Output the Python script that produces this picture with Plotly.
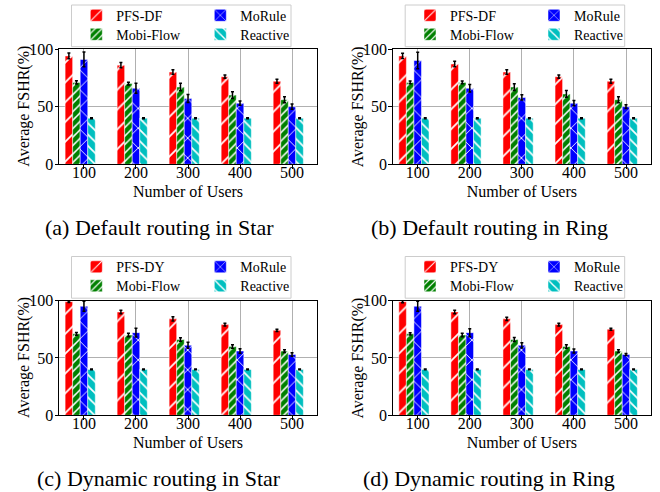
import plotly.graph_objects as go

W, H = 660, 492

users = [100, 200, 300, 400, 500]
user_labels = ["100", "200", "300", "400", "500"]

# (a) Default routing in Star
a_pfs = [94, 86, 80, 76, 72]
a_mobi = [71, 70, 67, 60, 56]
a_morule = [91, 66, 57, 53, 50]
a_reactive = [40, 40, 40, 40, 40]
a_pfs_err = [2.5, 2.3, 2, 1.4, 1.7]
a_mobi_err = [1.4, 1.2, 3.2, 2.9, 2.6]
a_morule_err = [6.5, 4.3, 3.5, 1.8, 2.2]
a_reactive_err = [0.4, 0.4, 0.4, 0.4, 0.4]

# (b) Default routing in Ring
b_pfs = [94, 87, 80, 76, 72]
b_mobi = [71, 71, 67, 61, 56]
b_morule = [90, 66, 58, 53, 50]
b_reactive = [40, 40, 40, 40, 40]
b_pfs_err = [2.3, 2.3, 2, 1.4, 1.7]
b_mobi_err = [1.2, 1.2, 2.9, 2.9, 2.6]
b_morule_err = [7.2, 3.2, 2.3, 2.3, 1.7]
b_reactive_err = [0.4, 0.4, 0.4, 0.4, 0.4]

# (c) Dynamic routing in Star
c_pfs = [99, 90, 84, 79, 74]
c_mobi = [71, 70, 66, 60, 56]
c_morule = [95, 72, 61, 56, 53]
c_reactive = [40, 40, 40, 40, 40]
c_pfs_err = [0.8, 1.5, 1.8, 1.2, 0.9]
c_mobi_err = [1.2, 1.5, 1.5, 1.5, 1.2]
c_morule_err = [4.4, 3.8, 2.6, 2.0, 1.5]
c_reactive_err = [0.4, 0.4, 0.4, 0.4, 0.4]

# (d) Dynamic routing in Ring
d_pfs = [99, 90, 84, 79, 75]
d_mobi = [71, 70, 66, 60, 56]
d_morule = [95, 72, 61, 56, 53]
d_reactive = [40, 40, 40, 40, 40]
d_pfs_err = [1.0, 1.5, 1.5, 1.2, 0.9]
d_mobi_err = [1.0, 1.5, 1.8, 1.5, 1.2]
d_morule_err = [4.4, 3.5, 2.3, 1.8, 0.9]
d_reactive_err = [0.4, 0.4, 0.4, 0.4, 0.4]

panels = [
    ("(a) Default routing in Star", "PFS-DF", a_pfs, a_mobi, a_morule, a_reactive,
     a_pfs_err, a_mobi_err, a_morule_err, a_reactive_err),
    ("(b) Default routing in Ring", "PFS-DF", b_pfs, b_mobi, b_morule, b_reactive,
     b_pfs_err, b_mobi_err, b_morule_err, b_reactive_err),
    ("(c) Dynamic routing in Star", "PFS-DY", c_pfs, c_mobi, c_morule, c_reactive,
     c_pfs_err, c_mobi_err, c_morule_err, c_reactive_err),
    ("(d) Dynamic routing in Ring", "PFS-DY", d_pfs, d_mobi, d_morule, d_reactive,
     d_pfs_err, d_mobi_err, d_morule_err, d_reactive_err),
]

FONT = "Liberation Serif"
BAR_W = 14.5
styles = [
    # color, pattern shape, pattern size, solidity, offset in bar widths
    ("#ff0000", "/", 14, 0.12, -2.5),
    ("#008000", "/", 6, 0.25, -1.5),
    ("#0000ff", "x", 14, 0.12, -0.5),
    ("#00bfbf", "\\", 8, 0.22, 0.5),
]
# legend entry placement inside the legend frame (col offset px, row)
legend_slots = [(17.3, 0), (17.3, 1), (141.3, 0), (141.3, 1)]

# pixel geometry of plot areas
col_x = [(59, 317), (392.7, 651)]
row_y = [(49, 164.3), (300.5, 415.3)]

def px_x(p):
    return p / W

def px_y(p):
    return 1 - p / H

fig = go.Figure()
layout = dict(
    width=W, height=H,
    margin=dict(l=0, r=0, t=0, b=0, autoexpand=False),
    paper_bgcolor="white", plot_bgcolor="white",
    barmode="overlay",
    font=dict(family=FONT, color="black", size=15),
    shapes=[], annotations=[],
)

leg_common = dict(
    xanchor="left", yanchor="middle", bgcolor="rgba(0,0,0,0)", borderwidth=0,
    font=dict(family=FONT, size=14, color="black"), itemwidth=30,
    tracegroupgap=0, orientation="v",
)

for k, panel in enumerate(panels):
    caption, pfs_name = panel[0], panel[1]
    values = panel[2:6]
    errors = panel[6:10]
    names = [pfs_name, "Mobi-Flow", "MoRule", "Reactive"]
    r, c = divmod(k, 2)
    x0, x1 = col_x[c]
    y0, y1 = row_y[r]
    sfx = "" if k == 0 else str(k + 1)
    xa, ya = "x" + sfx, "y" + sfx
    by0, by1 = y0 - 44, y0 - 2.3
    for i in range(4):
        color, shape, size, sol, off = styles[i]
        n = 4 * k + i + 1
        leg = "legend" if n == 1 else "legend%d" % n
        fig.add_trace(go.Bar(
            x=users, y=values[i], name=names[i],
            width=BAR_W, offset=off * BAR_W,
            marker=dict(color=color, line=dict(color="white", width=0.5),
                        pattern=dict(shape=shape, fgcolor="white", bgcolor=color,
                                     size=size, solidity=sol, fillmode="replace")),
            error_y=dict(type="data", array=errors[i], color="black",
                         thickness=1.5, width=1.5),
            xaxis=xa, yaxis=ya,
            legend=leg,
            showlegend=True,
        ))
        dx, row = legend_slots[i]
        layout[leg] = dict(leg_common, x=px_x(x0 + dx),
                           y=px_y(by0 + 10.7 + 19 * row))
    axis_common = dict(
        showline=True, linecolor="black", linewidth=1, mirror=True,
        ticks="outside", ticklen=3.5, tickcolor="black", tickwidth=1,
        showgrid=True, gridcolor="#b0b0b0", gridwidth=1, zeroline=False,
        tickfont=dict(family=FONT, size=16, color="black"),
    )
    layout["xaxis" + sfx] = dict(
        axis_common, domain=[px_x(x0), px_x(x1)], anchor=ya,
        range=[52, 548], tickmode="array", tickvals=users, ticktext=user_labels,
        ticklabelstandoff=-10,
        title=dict(text="Number of Users", font=dict(family=FONT, size=16), standoff=5),
    )
    layout["yaxis" + sfx] = dict(
        axis_common, domain=[px_y(y1), px_y(y0)], anchor=xa,
        range=[0, 100], tickmode="array", tickvals=[0, 50, 100],
        ticklabelstandoff=-2,
    )
    # y-axis title
    layout["annotations"].append(dict(
        text="Average FSHR(%)", xref="paper", yref="paper",
        x=px_x(x0 - 35), y=px_y((y0 + y1) / 2), textangle=-90,
        xanchor="center", yanchor="middle", showarrow=False,
        font=dict(family=FONT, size=16, color="black"),
    ))
    # legend frame
    bx0, bx1 = x0 + 12.5, x0 + 232
    layout["shapes"].append(dict(
        type="rect", xref="paper", yref="paper",
        x0=px_x(bx0), x1=px_x(bx1), y0=px_y(by1), y1=px_y(by0),
        line=dict(color="#cccccc", width=1), fillcolor="rgba(255,255,255,0.8)",
        layer="below",
    ))
    # caption
    layout["annotations"].append(dict(
        text=caption, xref="paper", yref="paper",
        x=px_x(159 if c == 0 else 489), y=px_y(227 + 251 * r),
        xanchor="center", yanchor="middle", showarrow=False,
        font=dict(family=FONT, size=22, color="black"),
    ))

fig.update_layout(**layout)
fig.write_html(
    "out.html",
    config={"displayModeBar": False},
    post_script="document.body.style.margin='0';document.body.style.padding='0';"
                "document.body.style.overflow='hidden';",
)
